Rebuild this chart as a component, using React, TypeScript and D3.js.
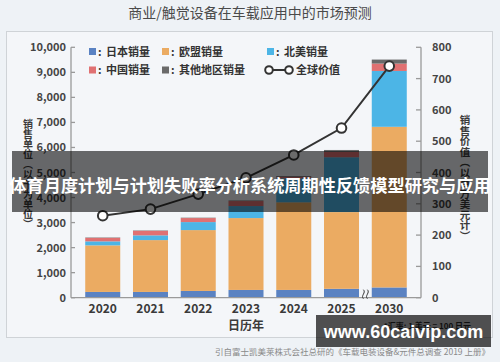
import React from "react";
import * as d3 from "d3";

const years = ["2020", "2021", "2022", "2023", "2024", "2025", "2030"];
const japan = [230, 230, 270, 310, 310, 355, 410];
const europe = [1860, 2070, 2430, 2870, 3500, 3065, 6415];
const northAmerica = [160, 190, 320, 480, 960, 2190, 2230];
const china = [140, 180, 160, 200, 60, 210, 295];
const other = [15, 15, 15, 20, 30, 80, 160];
const globalValue = [262, 283, 331, 383, 456, 542, 740];

const unitTicks = [0, 1000, 2000, 3000, 4000, 5000, 6000, 7000, 8000, 9000, 10000];
const valueTicks = [0, 100, 200, 300, 400, 500, 600, 700, 800];

const seriesKeys = ["japan", "europe", "northAmerica", "china", "other"];
const seriesNames = ["日本销量", "欧盟销量", "北美销量", "中国销量", "其他地区销量"];
const seriesColors = ["#5a82c2", "#ebab62", "#4cb5e6", "#e07172", "#6a6a6a"];

const title = "商业/触觉设备在车载应用中的市场预测";
const leftLabel = "销售单位（以千为单位）";
const rightLabel = "销售价值（以百万美元计）";
const xLabel = "日历年";
const lineName = "全球价值";
const footnote = "*汇率: 1 美元 = 100 日元";
const source = "引自富士凯美莱株式会社总研的《车载电装设备&元件总调查 2019 上册》";
const bannerText = "体育月度计划与计划失败率分析系统周期性反馈模型研究与应用";
const watermark = "www.60caivip.com";

const FONT = "'Noto Sans CJK SC', 'Noto Sans', sans-serif";

export default function App() {
  const W = 500, H = 362;
  const left = 71, right = 421, top = 47.3, bottom = 297.7;

  const x = d3.scaleBand<string>().domain(years).range([left, right]).paddingInner(0.267).paddingOuter(0.298);
  const yL = d3.scaleLinear().domain([0, 10000]).range([bottom, top]);
  const yR = d3.scaleLinear().domain([0, 800]).range([bottom, top]);

  const rows = years.map((yr, i) => ({
    year: yr,
    japan: japan[i],
    europe: europe[i],
    northAmerica: northAmerica[i],
    china: china[i],
    other: other[i],
  }));
  const stacked = d3.stack<any>().keys(seriesKeys)(rows);

  const line = d3
    .line<number>()
    .x((_, i) => (x(years[i]) as number) + x.bandwidth() / 2)
    .y((v) => yR(v));

  const legendItems = [
    { idx: 0, x: 89, y: 51.5 },
    { idx: 1, x: 162, y: 51.5 },
    { idx: 2, x: 267, y: 51.5 },
    { idx: 3, x: 89, y: 70 },
    { idx: 4, x: 162, y: 70 },
  ];

  const breakX = ((x("2025") as number) + x.bandwidth() + (x("2030") as number)) / 2;

  return (
    <div style={{ position: "fixed", left: 0, top: 0, width: W, height: H }}>
      <svg width={W} height={H} style={{ display: "block", fontFamily: FONT }}>
        <rect x={0} y={0} width={W} height={H} fill="#eef2f6" />
        <text x={250} y={18} textAnchor="middle" fontSize={14} fill="#4a4a4a">
          {title}
        </text>
        <rect x={6.5} y={31.5} width={486} height={306} fill="#f4f6f9" stroke="#cfd3d7" />

        {/* bars */}
        {stacked.map((s, si) => (
          <g key={si} fill={seriesColors[si]}>
            {s.map((d, i) => (
              <rect
                key={i}
                x={x(years[i])}
                y={yL(d[1])}
                width={x.bandwidth()}
                height={Math.max(0, yL(d[0]) - yL(d[1]))}
              />
            ))}
          </g>
        ))}

        {/* axes */}
        <g stroke="#9a9a9a" strokeWidth={1.3} fill="none">
          <line x1={left} x2={left} y1={top} y2={bottom} />
          <line x1={right} x2={right} y1={top} y2={bottom} />
          <line x1={left} x2={right} y1={bottom} y2={bottom} />
          {unitTicks.map((t) => (
            <line key={"l" + t} x1={left} x2={left + 4} y1={yL(t)} y2={yL(t)} />
          ))}
          {valueTicks.map((t) => (
            <line key={"r" + t} x1={right - 5} x2={right} y1={yR(t)} y2={yR(t)} />
          ))}
        </g>
        {unitTicks.map((t) => (
          <text key={"lt" + t} x={66} y={yL(t) + 4} textAnchor="end" fontSize={11} fontWeight={600} fill="#444">
            {d3.format(",")(t)}
          </text>
        ))}
        {valueTicks.map((t) => (
          <text key={"rt" + t} x={432} y={yR(t) + 4} textAnchor="start" fontSize={11} fontWeight={600} fill="#444">
            {t}
          </text>
        ))}
        {years.map((yr) => (
          <text
            key={"x" + yr}
            x={(x(yr) as number) + x.bandwidth() / 2}
            y={313}
            textAnchor="middle"
            fontSize={12}
            fontWeight={600}
            fill="#3a3a3a"
          >
            {yr}
          </text>
        ))}
        <text x={246} y={330} textAnchor="middle" fontSize={12} fontWeight={700} fill="#3a3a3a">
          {xLabel}
        </text>

        {/* axis break */}
        <g stroke="#333" strokeWidth={1} fill="none">
          {[-2, 2].map((dx) => (
            <path
              key={dx}
              d={`M${breakX + dx},${bottom - 8} C${breakX + dx + 3},${bottom - 5} ${breakX + dx - 3},${bottom - 2} ${breakX + dx},${bottom + 1}`}
            />
          ))}
        </g>

        {/* vertical labels */}
        <text
          x={28}
          y={119}
          fontSize={10}
          fontWeight={700}
          fill="#3a3a3a"
          style={{ writingMode: "vertical-rl" as any }}
        >
          {leftLabel}
        </text>
        <text
          x={465}
          y={115}
          fontSize={10.5}
          fontWeight={700}
          fill="#3a3a3a"
          style={{ writingMode: "vertical-rl" as any }}
        >
          {rightLabel}
        </text>

        {/* line */}
        <path d={line(globalValue) || ""} fill="none" stroke="#333" strokeWidth={2} />
        {globalValue.map((v, i) => (
          <circle
            key={i}
            cx={(x(years[i]) as number) + x.bandwidth() / 2}
            cy={yR(v)}
            r={4.8}
            fill="#fff"
            stroke="#333"
            strokeWidth={2}
          />
        ))}

        {/* legend */}
        {legendItems.map((it) => (
          <g key={it.idx}>
            <rect x={it.x} y={it.y - 3.5} width={7} height={7} fill={seriesColors[it.idx]} />
            <text x={it.x + 9} y={it.y + 4} fontSize={11} fontWeight={700} fill="#333">
              :
            </text>
            <text x={it.x + 17} y={it.y + 4} fontSize={11} fontWeight={600} fill="#333">
              {seriesNames[it.idx]}
            </text>
          </g>
        ))}
        <g>
          <line x1={269} x2={289} y1={70} y2={70} stroke="#333" strokeWidth={2} />
          <circle cx={269} cy={70} r={3.8} fill="#fff" stroke="#333" strokeWidth={2} />
          <circle cx={289} cy={70} r={3.8} fill="#fff" stroke="#333" strokeWidth={2} />
          <text x={296} y={74} fontSize={11} fontWeight={600} fill="#333">
            {lineName}
          </text>
        </g>

        {/* footnote and source */}
        <text x={471} y={329} textAnchor="end" fontSize={8} fontWeight={700} fill="#333">
          {footnote}
        </text>
        <text x={490} y={355} textAnchor="end" fontSize={8.5} fill="#8a8a8a">
          {source}
        </text>

        {/* overlays */}
        <rect x={12} y={151} width={476} height={61} fill="#000" fillOpacity={0.58} />
        <text x={250} y={192} textAnchor="middle" fontSize={17.2} fontWeight={700} fill="#fff">
          {bannerText}
        </text>
        <rect x={316} y={315} width={175} height={32} fill="#000" fillOpacity={0.68} />
        <text
          x={403.5}
          y={338}
          textAnchor="middle"
          fontSize={18}
          fontWeight={700}
          fill="#fff"
          fontFamily="'Liberation Sans', Arial, sans-serif"
        >
          {watermark}
        </text>
      </svg>
    </div>
  );
}
